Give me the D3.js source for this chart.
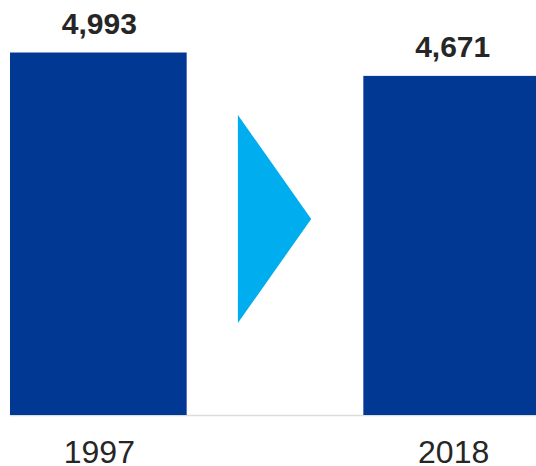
<!DOCTYPE html>
<html>
<head>
<meta charset="utf-8">
<script src="https://cdn.jsdelivr.net/npm/d3@7"></script>
<style>
  html, body { margin: 0; padding: 0; background: #fff; }
  svg { display: block; }
</style>
</head>
<body>
<svg id="chart" width="536" height="466"></svg>
<script>
const years = ["1997", "2018"];
const values = [4993, 4671];

const W = 536, H = 466;
const svg = d3.select("#chart");

const x = d3.scaleBand().domain(years).range([10, 540]).paddingInner(0.5).paddingOuter(0);
const y = d3.scaleLinear().domain([0, 5000]).range([415, 52]);

const fmt = d3.format(",");

// baseline
svg.append("line")
  .attr("x1", 10).attr("x2", W)
  .attr("y1", y(0) + 0.5).attr("y2", y(0) + 0.5)
  .attr("stroke", "#dcdcdc").attr("stroke-width", 1.5);

// bars
svg.selectAll("rect.bar")
  .data(years)
  .join("rect")
  .attr("class", "bar")
  .attr("x", d => x(d))
  .attr("width", x.bandwidth())
  .attr("y", (d, i) => y(values[i]))
  .attr("height", (d, i) => y(0) - y(values[i]))
  .attr("fill", "#003893");

// value labels
svg.selectAll("text.val")
  .data(years)
  .join("text")
  .attr("class", "val")
  .attr("x", (d, i) => i === 0 ? x(d) + x.bandwidth() / 2 + 1 : (x(d) + W) / 2 + 3)
  .attr("y", (d, i) => y(values[i]) - 19)
  .attr("text-anchor", "middle")
  .attr("font-family", "Liberation Sans, Arial, sans-serif")
  .attr("font-weight", "bold")
  .attr("font-size", 30)
  .attr("fill", "#262626")
  .text((d, i) => fmt(values[i]));

// year labels
svg.selectAll("text.year")
  .data(years)
  .join("text")
  .attr("class", "year")
  .attr("x", (d, i) => i === 0 ? x(d) + x.bandwidth() / 2 + 1 : (x(d) + W) / 2 + 4)
  .attr("y", 463)
  .attr("text-anchor", "middle")
  .attr("font-family", "Liberation Sans, Arial, sans-serif")
  .attr("font-size", 32)
  .attr("fill", "#262626")
  .text(d => d);

// direction arrow between the bars
const gapL = x(years[0]) + x.bandwidth();
const gapR = x(years[1]);
const ax0 = gapL + (gapR - gapL) * 0.29;
const ax1 = gapL + (gapR - gapL) * 0.705;
const aTop = 115, aBot = 323;
svg.append("path")
  .attr("d", `M${ax0},${aTop} L${ax1},${(aTop + aBot) / 2} L${ax0},${aBot} Z`)
  .attr("fill", "#00AEEF");
</script>
</body>
</html>
